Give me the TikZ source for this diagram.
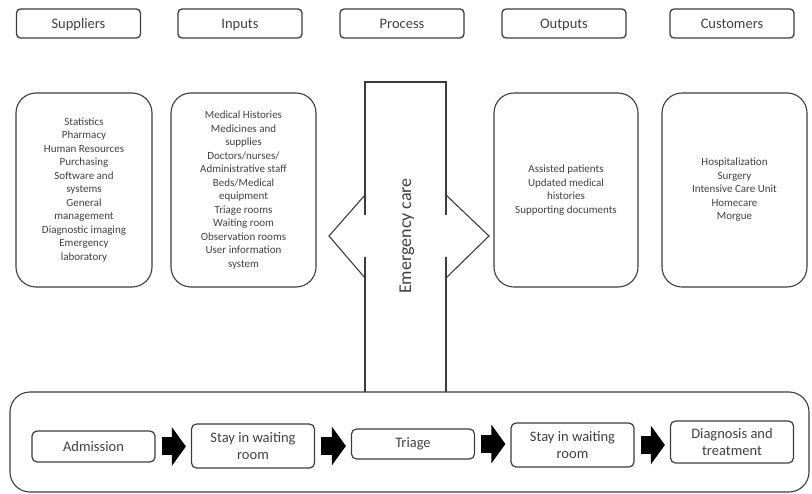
\documentclass[tikz,border=0pt]{standalone}
\usepackage{fontspec}
\setmainfont{Carlito}
\usetikzlibrary{arrows.meta}
\definecolor{linegray}{HTML}{3C3C3C}
\definecolor{textgray}{HTML}{404040}

\begin{document}
\begin{tikzpicture}[x=1pt,y=-1pt,
  hdr/.style={draw=linegray,line width=1.3pt,rounded corners=4pt,minimum width=124pt,minimum height=29pt,text height=12.5pt,text depth=2pt,text=textgray,font=\fontsize{14.5}{17}\selectfont},
  listbox/.style={draw=linegray,line width=1.1pt,rounded corners=20pt,minimum height=194pt,align=center,text=textgray,font=\fontsize{11}{13.5}\selectfont},
  stepbox/.style={draw=linegray,line width=1.2pt,rounded corners=5pt,minimum width=123pt,align=center,text=textgray,font=\fontsize{14.5}{17}\selectfont},
  flowarrow/.style={line width=18pt,-{Triangle[length=14pt,width=38pt]},shorten <=6pt,shorten >=5pt},
  edge/.style={draw=linegray,line width=1.1pt}]
\useasboundingbox (0,0) rectangle (812,494);
\node[hdr] (sup) at (78.5,23.5) {Suppliers};
\node[hdr] (inp) at (240,23.5) {Inputs};
\node[hdr] (pro) at (402,23.5) {Process};
\node[hdr] (out) at (564,23.5) {Outputs};
\node[hdr] (cus) at (732,23.5) {Customers};
\node[listbox,minimum width=136pt] (suplist) at (84,190) {Statistics\\Pharmacy\\Human Resources\\Purchasing\\Software and\\systems\\General\\management\\Diagnostic imaging\\Emergency\\laboratory};
\node[listbox,minimum width=145pt] (inplist) at (243.5,190) {Medical Histories\\Medicines and\\supplies\\Doctors/nurses/\\Administrative staff\\Beds/Medical\\equipment\\Triage rooms\\Waiting room\\Observation rooms\\User information\\system};
\node[listbox,minimum width=144pt] (outlist) at (566,190) {Assisted patients\\Updated medical\\histories\\Supporting documents};
\node[listbox,minimum width=145pt] (cuslist) at (734.5,190) {Hospitalization\\Surgery\\Intensive Care Unit\\Homecare\\Morgue};
\draw[edge] (365,215) -- (365,82) -- (446,82) -- (446,215);
\draw[edge] (365,257) -- (365,392);
\draw[edge] (446,257) -- (446,392);
\draw[edge] (365,215) -- (365,195) -- (329,236) -- (365,278) -- (365,257);
\draw[edge] (446,215) -- (446,195) -- (489,236) -- (446,278) -- (446,257);
\draw[draw=linegray,line width=2.4pt] (365,195) -- (365,215) (365,257) -- (365,278);
\draw[draw=linegray,line width=2.4pt] (446,195) -- (446,215) (446,257) -- (446,278);
\node[rotate=90,text=textgray,font=\fontsize{18}{20}\selectfont] (care) at (407,236) {Emergency care};
\node[draw=linegray,line width=1.1pt,rounded corners=20pt,minimum width=799pt,minimum height=100pt] (flow) at (409.5,442) {};
\node[stepbox,minimum height=31pt] (adm) at (93.5,446.5) {Admission};
\node[stepbox,minimum height=44pt] (wait1) at (253,446) {Stay in waiting\\room};
\node[stepbox,minimum height=30pt] (tri) at (413,444) {Triage};
\node[stepbox,minimum height=44pt] (wait2) at (572.5,445) {Stay in waiting\\room};
\node[stepbox,minimum height=42pt] (diag) at (732,442) {Diagnosis and\\treatment};
\draw[flowarrow] (adm.east) -- (adm.east -| wait1.west);
\draw[flowarrow] (wait1.east) -- (wait1.east -| tri.west);
\draw[flowarrow] (tri.east) -- (tri.east -| wait2.west);
\draw[flowarrow] (wait2.east) -- (wait2.east -| diag.west);
\end{tikzpicture}
\end{document}
